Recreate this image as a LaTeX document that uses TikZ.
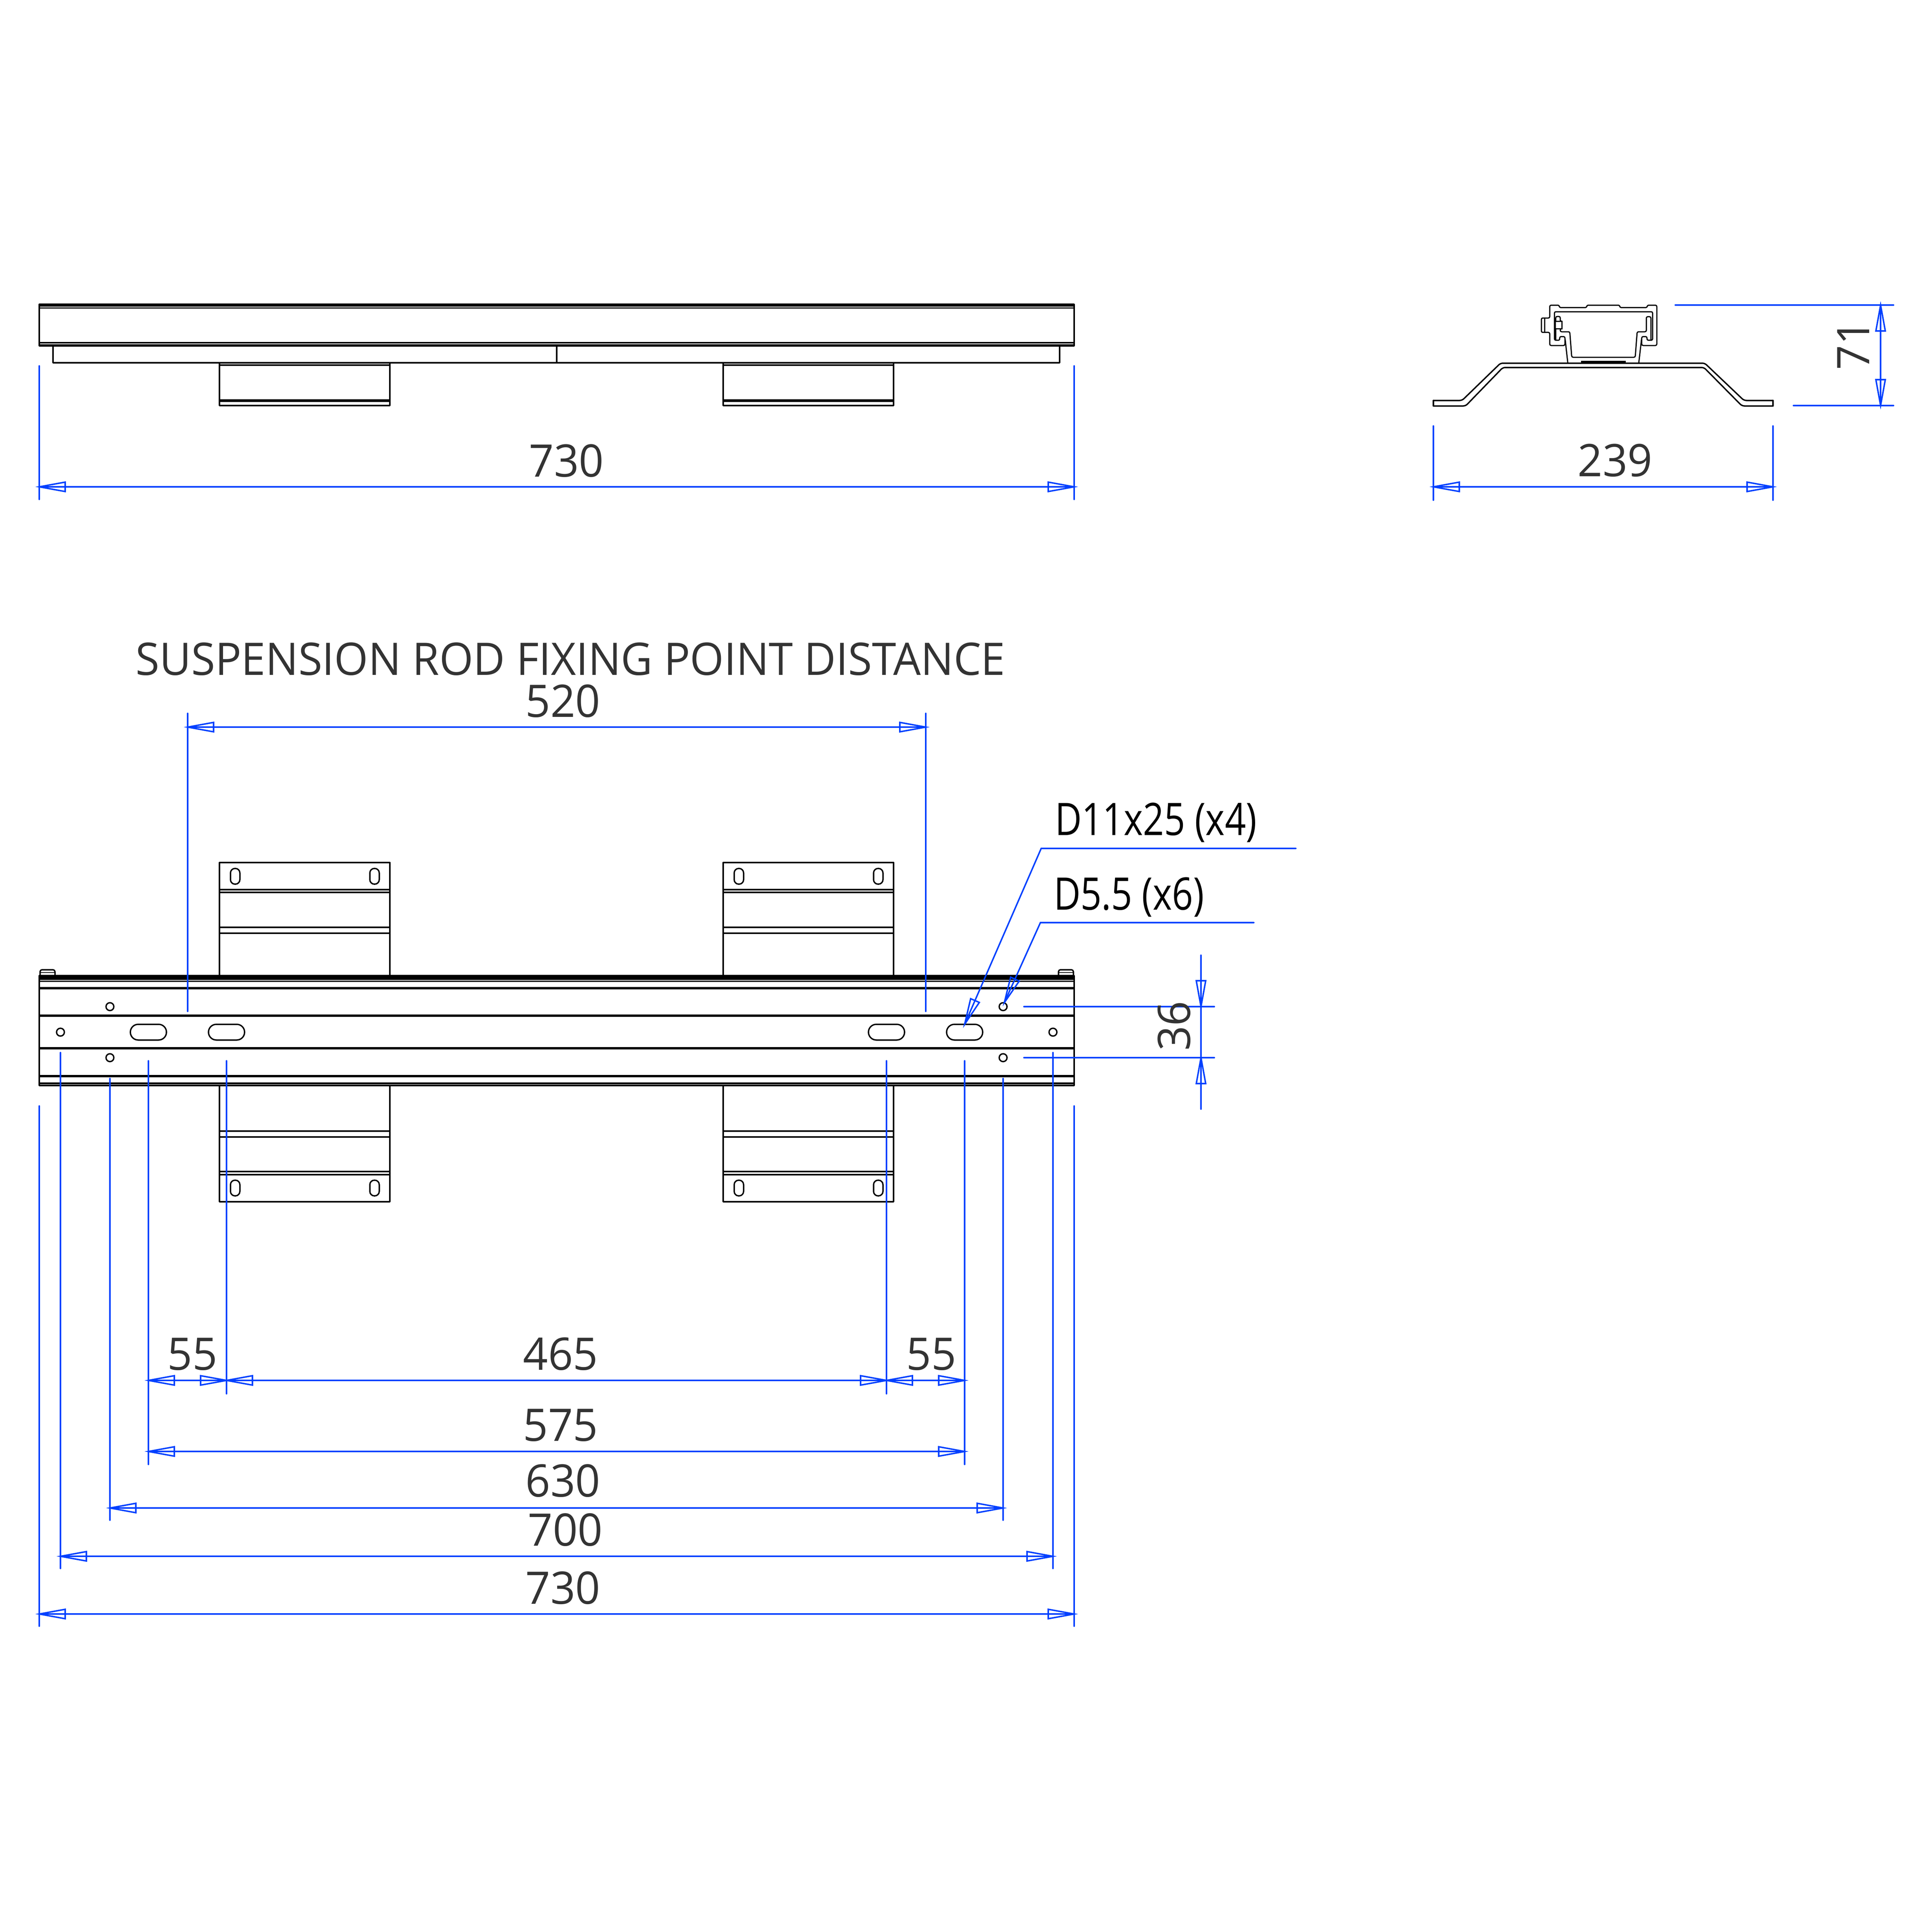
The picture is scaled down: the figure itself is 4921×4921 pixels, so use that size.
\documentclass[tikz,border=0pt]{standalone}
\usepackage{fontspec}
\setmainfont[FakeStretch=0.97]{Open Sans}
\newfontfamily\callfont[FakeStretch=0.82]{Open Sans}
\definecolor{dimblue}{HTML}{0040FF}
\definecolor{dimtext}{HTML}{333333}
\newcommand{\dimfont}{\fontsize{32.5pt}{36pt}\selectfont}
\newcommand{\arrowhd}[3]{\draw[dimline,shift={(#1,#2)},rotate=#3] (0,0)--(66,12)--(66,-12)--cycle;}
\newcommand{\hdim}[3]{\draw[dimline] (#1,#3)--(#2,#3); \arrowhd{#1}{#3}{0} \arrowhd{#2}{#3}{180}}
\newcommand{\extl}[3]{\draw[dimline] (#1,#2)--(#1,#3);}
\newcommand{\holes}[2]{\draw[part] (#1,#2) circle (10);}
\newcommand{\hslot}[1]{\draw[part,rounded corners=0.2cm] (#1-46,2609) rectangle (#1+46,2649);}
\newcommand{\vslot}[2]{\draw[part,rounded corners=0.115cm] (#1-12,#2-20) rectangle (#1+12,#2+20);}
\tikzset{
  part/.style={draw=black,line width=0.035cm,line join=round,line cap=round},
  dimline/.style={draw=dimblue,line width=0.037cm,line cap=round,line join=miter},
  dimlabel/.style={text=dimtext,font=\dimfont,inner sep=0pt,outer sep=0pt},
  calllabel/.style={text=black,font=\callfont\dimfont,inner sep=0pt,outer sep=0pt,anchor=base west}
}
\begin{document}
\begin{tikzpicture}[x=0.01cm,y=-0.01cm]
\useasboundingbox (0,0) rectangle (4921,4921);
\fill[white] (0,0) rectangle (4921,4921);

% ---------- top view
\draw[part] (100,775) rectangle (2736,881);
\fill (100,775) rectangle (2736,781);
\fill (100,783) rectangle (2736,786);
\fill (100,871) rectangle (2736,875);
\fill (100,877) rectangle (2736,881);
\draw[part] (135,881)--(135,924)--(2699,924)--(2699,881);
\draw[part] (1418,881)--(1418,924);
\foreach \bx in {559,1842}{
  \draw[part] (\bx,924) rectangle (\bx+434,1033);
  \fill (\bx,928) rectangle (\bx+434,932);
  \fill (\bx,1017) rectangle (\bx+434,1024);
}

% ---------- profile, bracket
\draw[part,rounded corners=0.06cm] (3651,1020)--(3724,1020)--(3822,925)--(4342,925)--(4442,1020)--(4516,1020);
\draw[part,rounded corners=0.06cm] (3651,1034)--(3733,1034)--(3828,936)--(4340,936)--(4437,1034)--(4516,1034);
\draw[part] (3651,1020)--(3651,1034) (4516,1020)--(4516,1034);

% ---------- profile, rail (coordinates read at 3x from the crop)
\begin{scope}[shift={(3900,750)},scale=1/3]
  \draw[part,line width=0.03cm,rounded corners=0.035cm]
    (215,82)--(215,100)--(425,100)--(425,82)--(677,82)--(677,100)--(887,100)--(887,82)--(960,82)--(960,390)--(845,390)--(845,322)--(885,322)--(885,350)--(928,350)--(928,132)--(178,132)--(178,350)--(218,350)--(218,322)--(258,322)--(258,390)--(142,390)--(142,290)--(78,290)--(78,180)--(142,180)--(142,82)--cycle;
  \draw[part,line width=0.03cm] (102,180)--(102,290);
  \draw[part,line width=0.03cm,rounded corners=0.035cm]
    (188,350)--(188,168)--(222,168)--(222,205)--(236,205)--(236,262)--(222,262)--(222,285)--(295,285)--(310,480)--(795,480)--(810,285)--(880,285)--(880,170)--(915,170)--(915,350);
  \fill[white,draw=black,line width=0.03cm] (185,205) rectangle (236,262);
  \draw[part,line width=0.03cm] (260,345)--(280,525);
  \draw[part,line width=0.03cm] (843,345)--(822,525);
  \fill (380,507) rectangle (722,525);
\end{scope}

% ---------- plan view: brackets
\foreach \bx in {559,1842}{
  \draw[part] (\bx,2197)--(\bx,2484) (\bx+434,2197)--(\bx+434,2484) (\bx,2197)--(\bx+434,2197);
  \draw[part] (\bx,2266)--(\bx+434,2266) (\bx,2273)--(\bx+434,2273) (\bx,2362)--(\bx+434,2362) (\bx,2377)--(\bx+434,2377);
  \vslot{\bx+40}{2232}
  \vslot{\bx+395}{2232}
  \draw[part] (\bx,2765)--(\bx,3061)--(\bx+434,3061)--(\bx+434,2765);
  \draw[part] (\bx,2881)--(\bx+434,2881) (\bx,2896)--(\bx+434,2896) (\bx,2984)--(\bx+434,2984) (\bx,2992)--(\bx+434,2992);
  \vslot{\bx+40}{3026}
  \vslot{\bx+395}{3026}
}

% ---------- plan view: main body
\draw[part,rounded corners=0.05cm] (102,2484)--(102,2470)--(140,2470)--(140,2484);
\draw[part,line width=0.02cm] (102,2477)--(140,2477);
\draw[part,rounded corners=0.05cm] (2696,2484)--(2696,2470)--(2734,2470)--(2734,2484);
\draw[part,line width=0.02cm] (2696,2477)--(2734,2477);
\draw[part] (100,2485) rectangle (2736,2765);
\fill (100,2484) rectangle (2736,2496);
\fill (100,2498) rectangle (2736,2501);
\fill (100,2514) rectangle (2736,2520);
\fill (100,2584) rectangle (2736,2590);
\fill (100,2667) rectangle (2736,2673);
\fill (100,2738) rectangle (2736,2744);
\fill (100,2757) rectangle (2736,2762);
\holes{280}{2564}\holes{154}{2629}\holes{280}{2694}
\holes{2555}{2564}\holes{2682}{2629}\holes{2555}{2694}
\hslot{378}\hslot{577}\hslot{2258}\hslot{2457}

% ---------- dimensions, top view
\extl{100}{932}{1272}\extl{2736}{932}{1272}
\hdim{100}{2736}{1240}
\node[dimlabel] (topwidth) at (1443,1174) {730};
\extl{3651}{1085}{1274}\extl{4516}{1085}{1274}
\hdim{3651}{4516}{1240}
\node[dimlabel] (profwidth) at (4114,1173) {239};
\draw[dimline] (4267,777)--(4823,777) (4568,1033)--(4823,1033) (4790,777)--(4790,1033);
\arrowhd{4790}{777}{-90}\arrowhd{4790}{1033}{90}
\node[dimlabel,rotate=90] (profheight) at (4721,879) {71};

% ---------- title and 520
\node[dimlabel] (title) at (1453,1679) {SUSPENSION ROD FIXING POINT DISTANCE};
\node[dimlabel] (fixdist) at (1434,1786) {520};
\extl{478}{1817}{2576}\extl{2358}{1817}{2576}
\hdim{478}{2358}{1852}

% ---------- callouts
\node[calllabel] (slotnote) at (2687,2127) {D11x25 (x4)};
\node[calllabel] (holenote) at (2684,2317) {D5.5 (x6)};
\draw[dimline] (3301,2161)--(2652,2161)--(2457,2609);
\arrowhd{2457}{2609}{66.5}
\draw[dimline] (3194,2350)--(2650,2350)--(2558,2554);
\arrowhd{2558}{2554}{65.7}

% ---------- dimension 36
\draw[dimline] (2608,2564)--(3093,2564) (2608,2694)--(3093,2694) (3059,2433)--(3059,2825);
\arrowhd{3059}{2564}{90}\arrowhd{3059}{2694}{-90}
\node[dimlabel,rotate=90] (rowpitch) at (2991,2613) {36};

% ---------- dimensions below plan
\extl{378}{2702}{3730}\extl{577}{2702}{3550}\extl{2258}{2702}{3550}\extl{2457}{2702}{3730}
\extl{280}{2747}{3872}\extl{2555}{2747}{3872}
\extl{154}{2681}{3995}\extl{2682}{2681}{3995}
\extl{100}{2817}{4142}\extl{2736}{2817}{4142}
\hdim{378}{577}{3516}\hdim{577}{2258}{3516}\hdim{2258}{2457}{3516}
\hdim{378}{2457}{3697}
\hdim{280}{2555}{3841}
\hdim{154}{2682}{3964}
\hdim{100}{2736}{4111}
\node[dimlabel] (d55a) at (490,3449) {55};
\node[dimlabel] (d465) at (1428,3449) {465};
\node[dimlabel] (d55b) at (2372,3449) {55};
\node[dimlabel] (d575) at (1428,3630) {575};
\node[dimlabel] (d630) at (1434,3772) {630};
\node[dimlabel] (d700) at (1440,3897) {700};
\node[dimlabel] (d730) at (1434,4045) {730};
\end{tikzpicture}
\end{document}
